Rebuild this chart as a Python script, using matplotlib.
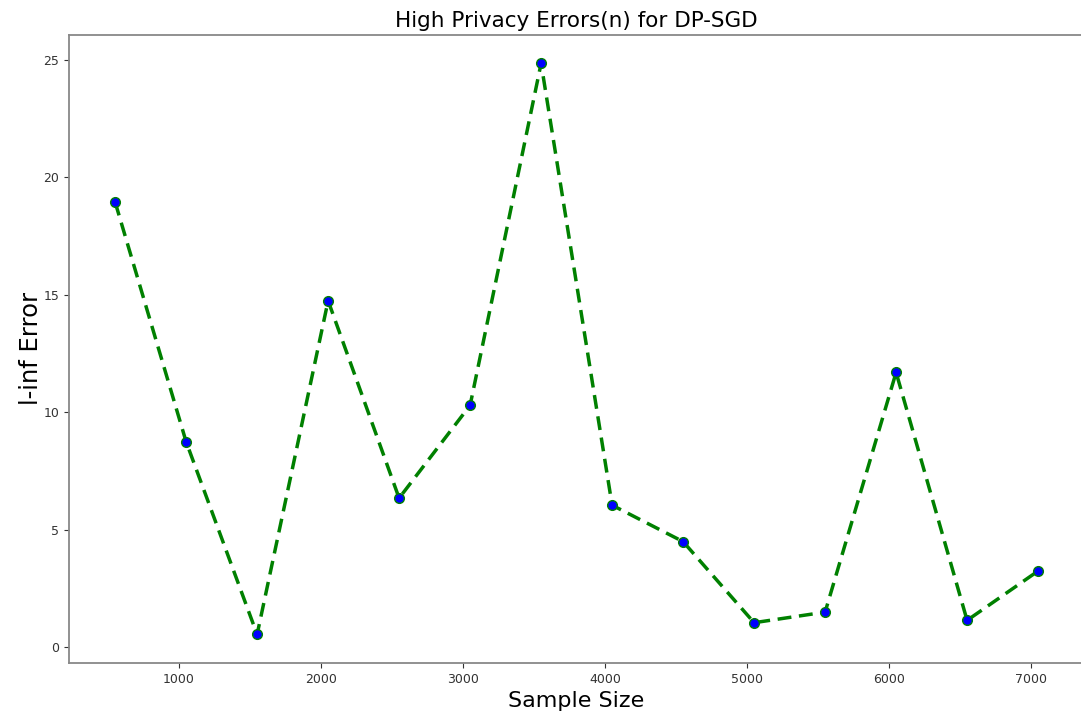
import matplotlib
matplotlib.use('Agg')
import matplotlib.pyplot as plt

# Data
sample_size = [550, 1050, 1550, 2050, 2550, 3050, 3550, 4050, 4550, 5050, 5550, 6050, 6550, 7050]
linf_error = [18.95, 8.75, 0.55, 14.75, 6.35, 10.3, 24.85, 6.05, 4.5, 1.05, 1.5, 11.7, 1.15, 3.25]

fig = plt.figure(figsize=(10.81, 7.11), dpi=100)
ax = fig.add_axes([0.0638, 0.0675, 0.9392, 0.8835])

ax.plot(sample_size, linf_error, color='green', linestyle='--', linewidth=2.5,
        dashes=(4, 2.2), marker='o', markersize=7, markerfacecolor='blue',
        markeredgecolor='green')

ax.set_title('High Privacy Errors(n) for DP-SGD', fontsize=15.5)
ax.set_xlabel('Sample Size', fontsize=16)
ax.set_ylabel('l-inf Error', fontsize=17.5, labelpad=0)
ax.tick_params(labelsize=9, colors='#333333')
for s in ax.spines.values():
    s.set_color('#888888')
    s.set_linewidth(1.3)
ax.spines['right'].set_visible(False)

plt.savefig('out.png', dpi=100)
